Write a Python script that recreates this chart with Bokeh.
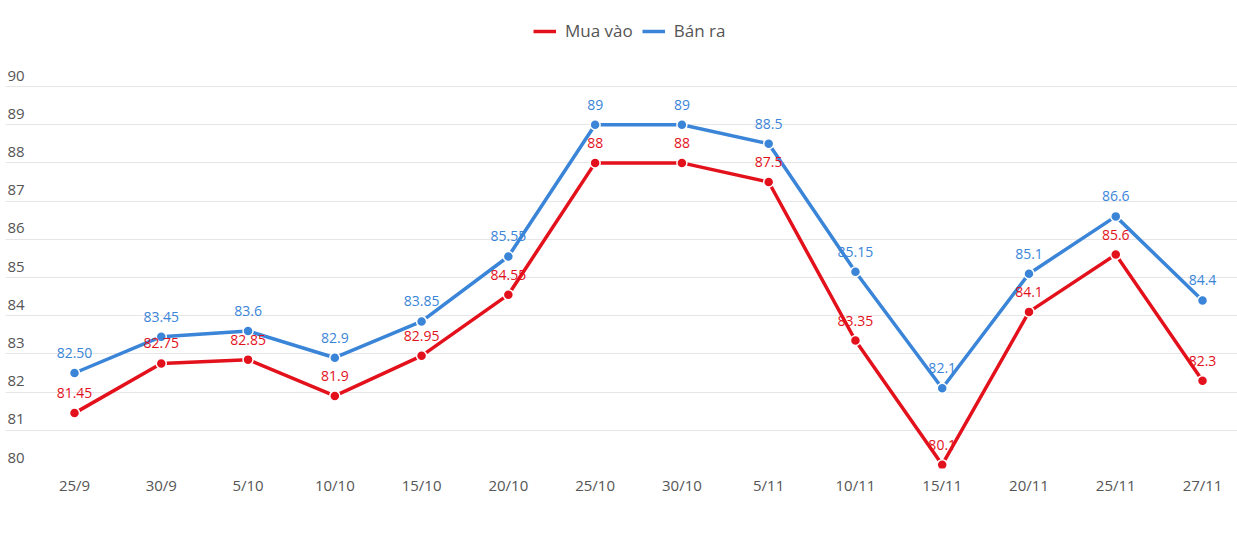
from bokeh.plotting import figure
from bokeh.models import ColumnDataSource, Legend, LegendItem, Range1d, FixedTicker
from bokeh.core.properties import value
from bokeh.embed import file_html
from bokeh.resources import INLINE

categories = ["25/9", "30/9", "5/10", "10/10", "15/10", "20/10", "25/10", "30/10",
              "5/11", "10/11", "15/11", "20/11", "25/11", "27/11"]
mua_vao = [81.45, 82.75, 82.85, 81.9, 82.95, 84.55, 88, 88, 87.5, 83.35, 80.1, 84.1, 85.6, 82.3]
ban_ra = [82.50, 83.45, 83.6, 82.9, 83.85, 85.55, 89, 89, 88.5, 85.15, 82.1, 85.1, 86.6, 84.4]
mua_vao_labels = ["81.45", "82.75", "82.85", "81.9", "82.95", "84.55", "88", "88", "87.5",
                  "83.35", "80.1", "84.1", "85.6", "82.3"]
ban_ra_labels = ["82.50", "83.45", "83.6", "82.9", "83.85", "85.55", "89", "89", "88.5",
                 "85.15", "82.1", "85.1", "86.6", "84.4"]
y_ticks = [80, 81, 82, 83, 84, 85, 86, 87, 88, 89, 90]

RED = "#e3111b"
BLUE = "#3a85d8"
FONT = "Open Sans"

xs = list(range(len(categories)))
W, H = 1237, 551
left_pad = 5
frame_h = 468
x_start = -0.7952
x_end = 13.403
y_start = 80
y_end = 80 + frame_h / 38.2

p = figure(width=W, height=H, output_backend="svg", toolbar_location=None,
           x_range=Range1d(x_start, x_end), y_range=Range1d(y_start, y_end),
           min_border_left=left_pad, min_border_right=0, min_border_top=0,
           min_border_bottom=H - frame_h)
p.outline_line_color = None
p.background_fill_color = "white"
p.border_fill_color = "white"

# axes
p.yaxis.visible = False
p.xaxis.ticker = FixedTicker(ticks=xs)
p.xaxis.major_label_overrides = {i: c for i, c in enumerate(categories)}
p.xaxis.axis_line_color = None
p.xaxis.major_tick_line_color = None
p.xaxis.major_tick_out = 0
p.xaxis.major_tick_in = 0
p.xaxis.minor_tick_line_color = None
p.xaxis.major_label_standoff = 6
p.xaxis.major_label_text_font = FONT
p.xaxis.major_label_text_font_size = "15px"
p.xaxis.major_label_text_color = "#555555"

p.xgrid.visible = False
p.ygrid.ticker = FixedTicker(ticks=y_ticks)
p.ygrid.grid_line_color = "#e6e6e6"
p.ygrid.grid_line_width = 1

# y labels above gridlines at left
ysrc = ColumnDataSource(dict(x=[x_start] * len(y_ticks), y=y_ticks, t=[str(v) for v in y_ticks]))
p.text(x="x", y="y", text="t", source=ysrc, text_font=value(FONT), text_font_size="15px",
       text_color="#555555", text_align="left", text_baseline="middle", y_offset=-11, x_offset=2)

src_r = ColumnDataSource(dict(x=xs, y=mua_vao, t=mua_vao_labels))
src_b = ColumnDataSource(dict(x=xs, y=ban_ra, t=ban_ra_labels))

lr = p.line("x", "y", source=src_r, line_color=RED, line_width=3.5)
lb = p.line("x", "y", source=src_b, line_color=BLUE, line_width=3.5)
p.scatter("x", "y", source=src_r, size=10, fill_color=RED, line_color="white", line_width=1.5)
p.scatter("x", "y", source=src_b, size=10, fill_color=BLUE, line_color="white", line_width=1.5)

p.text("x", "y", text="t", source=src_r, text_font=value(FONT), text_font_size="14px",
       text_color=RED, text_align="center", text_baseline="middle", y_offset=-20)
p.text("x", "y", text="t", source=src_b, text_font=value(FONT), text_font_size="14px",
       text_color=BLUE, text_align="center", text_baseline="middle", y_offset=-20)

legend = Legend(items=[LegendItem(label="Mua vào", renderers=[lr]),
                       LegendItem(label="Bán ra", renderers=[lb])],
                orientation="horizontal", location=(528, frame_h - 42))
legend.padding = 5
legend.margin = 0
legend.spacing = 9
legend.label_standoff = 9
legend.glyph_width = 23
legend.glyph_height = 20
legend.label_height = 20
legend.label_text_font = FONT
legend.label_text_font_size = "17px"
legend.label_text_color = "#555555"
legend.border_line_color = None
legend.background_fill_alpha = 0
p.add_layout(legend)

open("out.html", "w").write(file_html(p, INLINE))
